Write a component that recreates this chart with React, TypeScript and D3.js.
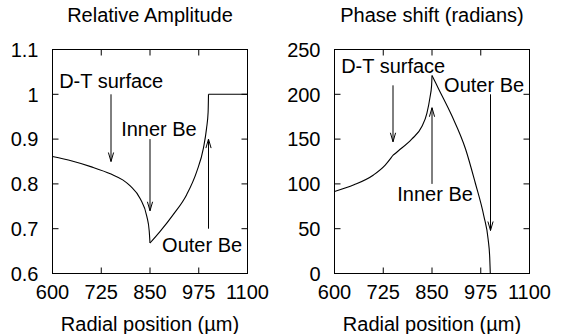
import React from "react";
import * as d3 from "d3";

// ---------- data ----------
const xTicks = [600, 725, 850, 975, 1100];
const xDomain = [600, 1100];

const ampTicks = [0.6, 0.7, 0.8, 0.9, 1.0, 1.1];
const ampTickLabels = ["0.6", "0.7", "0.8", "0.9", "1", "1.1"];
const ampDomain = [0.6, 1.1];

// Relative amplitude: three pieces (D-T / inner Be / vacuum)
const ampSeg1X = [600, 650, 700, 750, 780, 800, 825, 842, 848, 850];
const ampSeg1Y = [0.861, 0.851, 0.838, 0.822, 0.809, 0.795, 0.767, 0.727, 0.695, 0.668];
const ampSeg2X = [850, 876, 910, 944, 970, 987, 995, 999, 1000];
const ampSeg2Y = [0.668, 0.694, 0.732, 0.776, 0.828, 0.88, 0.924, 0.96, 1.0];
const ampSeg3X = [1000, 1100];
const ampSeg3Y = [1.0, 1.0];

const phaseTicks = [0, 50, 100, 150, 200, 250];
const phaseTickLabels = ["0", "50", "100", "150", "200", "250"];
const phaseDomain = [0, 250];

const phaseSeg1X = [600, 650, 700, 730, 745, 750];
const phaseSeg1Y = [91.5, 99, 110, 121, 129, 132];
const phaseSeg2X = [750, 764, 798, 824, 837, 845, 849, 850];
const phaseSeg2Y = [132, 137, 150, 164, 179, 197, 210, 221];
const phaseSeg3X = [850, 867, 901, 936, 961, 983, 994, 998, 999.5];
const phaseSeg3Y = [221, 206, 176, 139, 101, 64, 38, 18, 0];

// annotation arrows (data coordinates)
const ampArrows = [
  { x1: 750, y1: 1.0, x2: 750, y2: 0.85 },
  { x1: 850, y1: 0.9, x2: 850, y2: 0.74 },
  { x1: 1000, y1: 0.7, x2: 1000, y2: 0.9 },
];
const ampNotes = [
  { text: "D-T surface", x: 617, y: 1.015 },
  { text: "Inner Be", x: 776, y: 0.906 },
  { text: "Outer Be", x: 881, y: 0.649 },
];
const phaseArrows = [
  { x1: 750, y1: 210, x2: 750, y2: 147 },
  { x1: 850, y1: 100, x2: 850, y2: 185 },
  { x1: 1000, y1: 200, x2: 1000, y2: 48 },
];
const phaseNotes = [
  { text: "D-T surface", x: 617, y: 224 },
  { text: "Inner Be", x: 761, y: 81 },
  { text: "Outer Be", x: 881, y: 203 },
];

const zip = (xs: number[], ys: number[]) => xs.map((x, i) => [x, ys[i]] as [number, number]);

const FONT = "'Liberation Sans', Arial, Helvetica, sans-serif";
const FS = 20;

function Panel(props: any) {
  const { x0, x1, y0, y1, yDomain, yTicks, yLabels, segs, arrows, notes, title } = props;
  const xs = d3.scaleLinear().domain(xDomain).range([x0, x1]);
  const ys = d3.scaleLinear().domain(yDomain).range([y1, y0]);
  const line = d3
    .line<[number, number]>()
    .x((d) => xs(d[0]))
    .y((d) => ys(d[1]))
    .curve(d3.curveMonotoneX);
  const tl = 6;
  const cx = (x0 + x1) / 2;
  return (
    <g fontFamily={FONT} fontSize={FS} fill="#000">
      <text x={cx} y={22} textAnchor="middle">{title}</text>
      {/* ticks */}
      {xTicks.map((t) => (
        <g key={"xt" + t}>
          <line x1={xs(t)} x2={xs(t)} y1={y1} y2={y1 - tl} stroke="#000" />
          <line x1={xs(t)} x2={xs(t)} y1={y0} y2={y0 + tl} stroke="#000" />
          <text x={xs(t)} y={299} textAnchor="middle">{t}</text>
        </g>
      ))}
      {yTicks.map((t: number, i: number) => (
        <g key={"yt" + t}>
          <line x1={x0} x2={x0 + tl} y1={ys(t)} y2={ys(t)} stroke="#000" />
          <line x1={x1} x2={x1 - tl} y1={ys(t)} y2={ys(t)} stroke="#000" />
          <text x={x0 - 14} y={ys(t)} dy="0.36em" textAnchor="end">{yLabels[i]}</text>
        </g>
      ))}
      <rect x={x0} y={y0} width={x1 - x0} height={y1 - y0} fill="none" stroke="#000" strokeWidth={1} />
      {segs.map((s: [number, number][], i: number) => (
        <path key={"s" + i} d={line(s) || ""} fill="none" stroke="#000" strokeWidth={1.1} />
      ))}
      {arrows.map((a: any, i: number) => {
        const ax1 = xs(a.x1), ay1 = ys(a.y1), ax2 = xs(a.x2), ay2 = ys(a.y2);
        const dx = ax2 - ax1, dy = ay2 - ay1;
        const len = Math.hypot(dx, dy);
        const ux = dx / len, uy = dy / len;
        const hl = 9, hw = 2.6;
        const bx = ax2 - ux * hl, by = ay2 - uy * hl;
        const px = -uy * hw, py = ux * hw;
        return (
          <g key={"a" + i} stroke="#000" strokeWidth={1} fill="none">
            <line x1={ax1} y1={ay1} x2={ax2} y2={ay2} />
            <path d={`M${bx + px},${by + py} L${ax2},${ay2} L${bx - px},${by - py}`} />
          </g>
        );
      })}
      {notes.map((n: any, i: number) => (
        <text key={"n" + i} x={xs(n.x)} y={ys(n.y)}>{n.text}</text>
      ))}
      <text x={cx} y={331} textAnchor="middle">Radial position (µm)</text>
    </g>
  );
}

export default function App() {
  return (
    <svg
      width={563}
      height={334}
      viewBox="0 0 563 334"
      style={{ position: "absolute", left: 0, top: 0, background: "#fff" }}
    >
      <rect width={563} height={334} fill="#fff" />
      <Panel
        x0={52.5}
        x1={247.5}
        y0={49.5}
        y1={273.5}
        yDomain={ampDomain}
        yTicks={ampTicks}
        yLabels={ampTickLabels}
        segs={[zip(ampSeg1X, ampSeg1Y), zip(ampSeg2X, ampSeg2Y), zip(ampSeg3X, ampSeg3Y)]}
        arrows={ampArrows}
        notes={ampNotes}
        title="Relative Amplitude"
      />
      <Panel
        x0={334.5}
        x1={529.5}
        y0={49.5}
        y1={273.5}
        yDomain={phaseDomain}
        yTicks={phaseTicks}
        yLabels={phaseTickLabels}
        segs={[zip(phaseSeg1X, phaseSeg1Y), zip(phaseSeg2X, phaseSeg2Y), zip(phaseSeg3X, phaseSeg3Y)]}
        arrows={phaseArrows}
        notes={phaseNotes}
        title="Phase shift (radians)"
      />
    </svg>
  );
}
